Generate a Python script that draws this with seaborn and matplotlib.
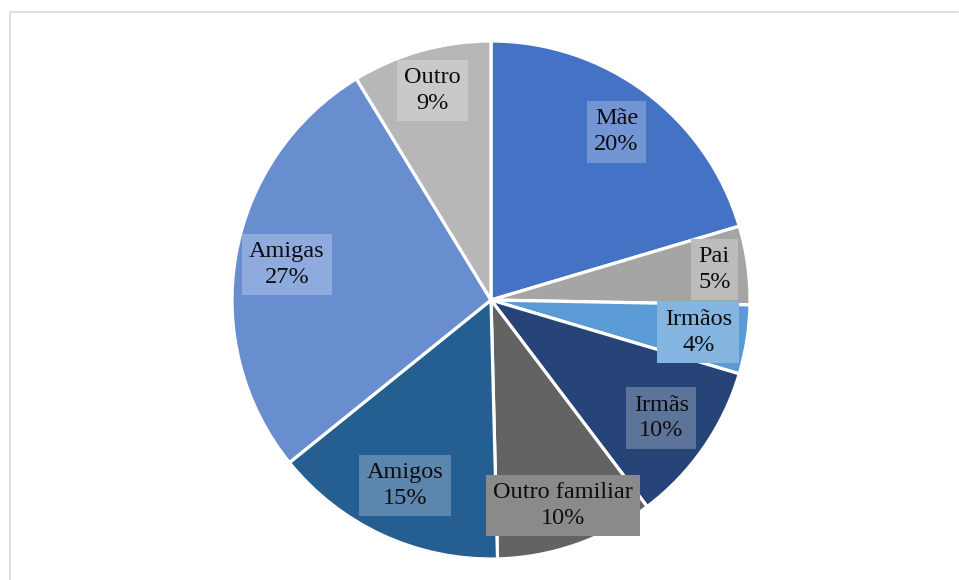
import numpy as np
import matplotlib
matplotlib.use("Agg")
import matplotlib.pyplot as plt
from matplotlib.lines import Line2D
from matplotlib.colors import to_rgb
import seaborn as sns

# Who the respondents talk to (share of answers, %)
categories = ["Mãe", "Pai", "Irmãos", "Irmãs", "Outro familiar", "Amigos", "Amigas", "Outro"]
shares = [20.4, 4.9, 4.3, 10.1, 9.9, 14.6, 27.1, 8.7]
palette = ["#4472C4", "#A5A5A5", "#5B9BD5", "#264478", "#636363", "#255E91", "#698ED0", "#B7B7B7"]

sns.set_theme(style="white")
plt.rcParams["font.family"] = ["Liberation Serif", "DejaVu Serif"]

W, H = 959, 580
fig = plt.figure(figsize=(W / 100, H / 100), dpi=100)
fig.patch.set_facecolor("white")

cx, cy, r = 491, 300, 259
ax = fig.add_axes([(cx - r) / W, (H - cy - r) / H, 2 * r / W, 2 * r / H])

colors = sns.color_palette(palette)
wedges, _ = ax.pie(
    shares,
    colors=colors,
    startangle=90,
    counterclock=False,
    wedgeprops=dict(edgecolor="white", linewidth=2.3),
)
ax.set_xlim(-1, 1)
ax.set_ylim(-1, 1)
ax.set_aspect("equal")
ax.axis("off")

# radial placement of each data label (fraction of radius)
label_dist = [0.81, 0.87, 0.81, 0.80, 0.84, 0.79, 0.80, 0.84]

for w, name, val, col, d in zip(wedges, categories, shares, colors, label_dist):
    ang = np.deg2rad((w.theta1 + w.theta2) / 2)
    x, y = d * np.cos(ang), d * np.sin(ang)
    base = np.array(to_rgb(col))
    box = base + 0.25 * (1 - base)
    ax.text(
        x, y, f"{name}\n{val:.0f}%",
        ha="center", va="center", fontsize=17.5, color="#0d0d0d",
        linespacing=1.3,
        bbox=dict(boxstyle="square,pad=0.3", facecolor=box, edgecolor="none"),
    )

# light chart-area frame (top and left edges)
frame = "#d9d9d9"
fig.add_artist(Line2D([9.5 / W, 958 / W], [1 - 11.5 / H] * 2, transform=fig.transFigure, color=frame, lw=1.2))
fig.add_artist(Line2D([9.5 / W] * 2, [1 - 11.5 / H, 0], transform=fig.transFigure, color=frame, lw=1.2))

fig.savefig("out.png", dpi=100)
